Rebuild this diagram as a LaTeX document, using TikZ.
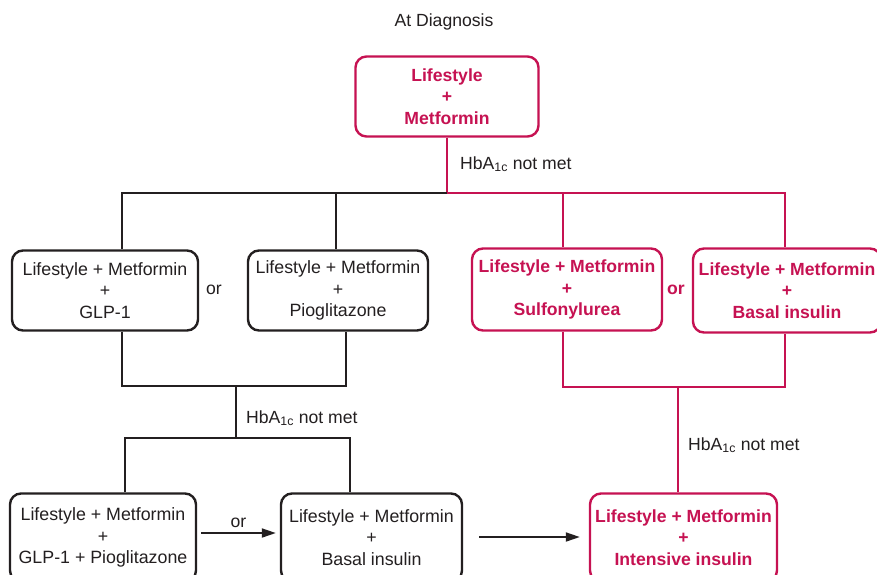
\documentclass[tikz,border=0pt]{standalone}
\usepackage{fontspec}
\setmainfont{Liberation Sans}
\usetikzlibrary{arrows.meta}
\definecolor{ada}{RGB}{198,18,82}
\definecolor{ink}{RGB}{35,31,32}
\tikzset{
  box/.style={draw=ink, line width=2.4pt, rounded corners=11pt, align=center,
    inner sep=0pt, text=ink, font=\fontsize{17.8}{21.5}\selectfont},
  rbox/.style={box, draw=ada, text=ada, font=\fontsize{17.6}{21.5}\selectfont\bfseries},
  blk/.style={draw=ink, line width=1.8pt},
  redc/.style={draw=ada, line width=1.8pt},
  lbl/.style={text=ink, font=\fontsize{17.6}{21.5}\selectfont, inner sep=0pt},
  arr/.style={blk, -{Triangle[length=14pt,width=9pt]}}
}
\begin{document}
\begin{tikzpicture}[x=1pt,y=-1pt]
\useasboundingbox (0,0) rectangle (877,574);
\clip (0,0) rectangle (877,574);
\fill[white] (0,0) rectangle (877,574);

\node[lbl] (title) at (444,21.5) {At Diagnosis};

\node[rbox, minimum width=183pt, minimum height=80pt] (top) at (447,96.5) {Lifestyle\\+\\Metformin};

\node[box, minimum width=186pt, minimum height=80pt] (b1) at (105,290.5) {Lifestyle + Metformin\\+\\GLP-1};
\node[box, minimum width=180pt, minimum height=80pt] (b2) at (338,290.5) {Lifestyle + Metformin\\+\\Pioglitazone};
\node[rbox, minimum width=190pt, minimum height=82pt] (b3) at (567,289.5) {Lifestyle + Metformin\\+\\Sulfonylurea};
\node[rbox, minimum width=188pt, minimum height=84pt] (b4) at (787,290.5) {Lifestyle + Metformin\\+\\Basal insulin};

\node[box, minimum width=186pt, minimum height=88pt] (b5) at (103,537.5) {Lifestyle + Metformin\\+\\GLP-1 + Pioglitazone};
\node[box, minimum width=181pt, minimum height=88pt] (b6) at (371.5,537.5) {Lifestyle + Metformin\\+\\Basal insulin};
\node[rbox, minimum width=187pt, minimum height=88pt] (b7) at (683.5,537.5) {Lifestyle + Metformin\\+\\Intensive insulin};

\node[lbl] (or1) at (214,290) {or};
\node[lbl, text=ada, font=\fontsize{17.6}{21.5}\selectfont\bfseries] (or2) at (676,290) {or};

% first split
\coordinate (j0) at (447,193);
\coordinate (jL) at (122,193);
\coordinate (jM) at (336,193);
\coordinate (jR1) at (563,193);
\coordinate (jR2) at (785,193);
\draw[redc] (top.south) -- (j0);
\node[lbl, anchor=west] (h1) at (460,164) {HbA\textsubscript{1c} not met};
\draw[blk] (j0) -- (jL) -- (jL |- b1.north);
\draw[blk] (jM) -- (jM |- b2.north);
\draw[redc] (j0) -- (jR2) -- (jR2 |- b4.north);
\draw[redc] (jR1) -- (jR1 |- b3.north);

% left merge
\coordinate (k1) at (122,386);
\coordinate (k2) at (346,386);
\coordinate (k0) at (236,386);
\coordinate (m0) at (236,438);
\coordinate (m1) at (125,438);
\coordinate (m2) at (350,438);
\draw[blk] (b1.south -| k1) -- (k1) -- (k2) -- (b2.south -| k2);
\draw[blk] (k0) -- (m0);
\node[lbl, anchor=west] (h2) at (246,418) {HbA\textsubscript{1c} not met};
\draw[blk] (m1 |- b5.north) -- (m1) -- (m2) -- (m2 |- b6.north);

% right merge
\coordinate (r1) at (563,387);
\coordinate (r2) at (785,387);
\coordinate (r0) at (678,387);
\draw[redc] (b3.south -| r1) -- (r1) -- (r2) -- (b4.south -| r2);
\draw[redc] (r0) -- (r0 |- b7.north);
\node[lbl, anchor=west] (h3) at (688,445) {HbA\textsubscript{1c} not met};

% arrows
\draw[arr] ([xshift=4pt,yshift=4.5pt]b5.east) -- node[lbl, above=4pt] (or3) {or} ([xshift=-4pt,yshift=4.5pt]b6.west);
\draw[arr] ([xshift=16pt,yshift=0.5pt]b6.east) -- ([xshift=-9pt,yshift=0.5pt]b7.west);
\end{tikzpicture}
\end{document}
